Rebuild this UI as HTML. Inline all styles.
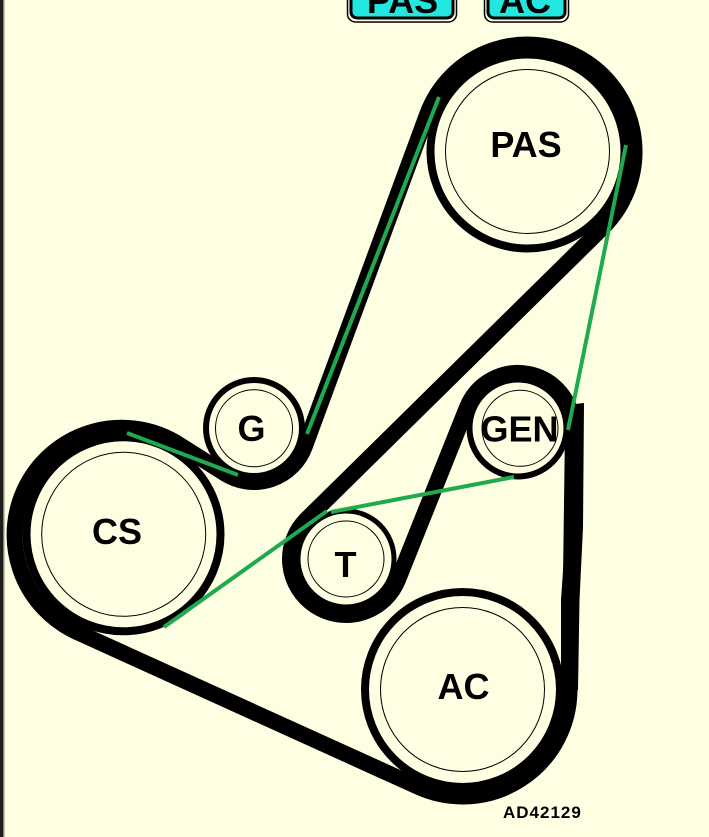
<!DOCTYPE html>
<html>
<head>
<meta charset="utf-8">
<style>
html,body{margin:0;padding:0;background:#FEFEE2;}
body{width:709px;height:837px;overflow:hidden;}
svg{display:block;}
text{font-family:"Liberation Sans",Arial,sans-serif;font-weight:bold;fill:#000;}
</style>
</head>
<body>
<svg width="709" height="837" viewBox="0 0 709 837" xmlns="http://www.w3.org/2000/svg">
  <rect x="0" y="0" width="709" height="837" fill="#FEFEE2"/>
  <!-- left border -->
  <rect x="0" y="0" width="3.2" height="837" fill="#1e1e1e"/>
  <rect x="3.2" y="0" width="1.2" height="837" fill="#7a7a7a"/>

  <!-- top buttons -->
  <rect x="347.5" y="-12" width="109" height="34" rx="8" fill="#FEFEE2" stroke="#000" stroke-width="1.5"/>
  <rect x="351" y="-12" width="102" height="30" rx="6" fill="#22E6E0" stroke="#000" stroke-width="3"/>
  <text x="402.5" y="13" font-size="36" text-anchor="middle">PAS</text>
  <rect x="484.5" y="-12" width="84" height="34" rx="8" fill="#FEFEE2" stroke="#000" stroke-width="1.5"/>
  <rect x="488" y="-12" width="77" height="30" rx="6" fill="#22E6E0" stroke="#000" stroke-width="3"/>
  <text x="525" y="13" font-size="36" text-anchor="middle">AC</text>

  <!-- belt -->
  <path d="M 77.8 632.4
           A 107 107 0 1 1 179.2 444.6
           L 225.1 473.6
           A 54 54 0 0 0 304.7 446.7
           L 427.1 114.5
           A 107 107 0 1 1 602.6 227.7
           L 306.7 519.1
           A 56 56 0 1 0 398.0 579.8
           L 466.9 407.6
           A 55 55 0 0 1 573 428.7
           L 569.5 690.9
           A 107 107 0 0 1 418.3 786.9
           Z"
        fill="none" stroke="#000" stroke-width="16" stroke-linejoin="round"/>
  <polygon points="566,418 575,404 584,403 583,527 579.5,600 578,690 561,690 561,600 566,527" fill="#000"/>

  <!-- pulleys -->
  <g stroke="#000" fill="#FEFEE2">
    <circle cx="527.5" cy="151.5" r="97" stroke-width="8"/>
    <circle cx="123.5" cy="534.3" r="97" stroke-width="8"/>
    <circle cx="462.5" cy="689.5" r="97.5" stroke-width="8"/>
    <circle cx="254" cy="428" r="48" stroke-width="6"/>
    <circle cx="518" cy="428" r="48.5" stroke-width="6"/>
    <circle cx="346" cy="559" r="48" stroke-width="5"/>
  </g>
  <g stroke="#000" fill="none" stroke-width="1">
    <circle cx="527.5" cy="151.5" r="82"/>
    <circle cx="123.7" cy="534.3" r="82"/>
    <circle cx="462.5" cy="689.5" r="82"/>
    <circle cx="254" cy="428.3" r="38.5"/>
    <circle cx="520" cy="428.3" r="38"/>
    <circle cx="346" cy="559" r="38"/>
  </g>

  <!-- labels -->
  <text x="526" y="157" font-size="36" text-anchor="middle">PAS</text>
  <text x="117" y="544" font-size="36" text-anchor="middle">CS</text>
  <text x="251.5" y="441" font-size="36" text-anchor="middle">G</text>
  <text x="345.5" y="577" font-size="36" text-anchor="middle">T</text>
  <text x="519.5" y="441.5" font-size="36" text-anchor="middle">GEN</text>
  <text x="463.5" y="699" font-size="36" text-anchor="middle">AC</text>
  <text x="503" y="818" font-size="17" letter-spacing="1">AD42129</text>

  <!-- green alternate routing -->
  <g stroke="#1FAA4F" stroke-width="4" fill="none" stroke-linecap="butt">
    <line x1="127" y1="433" x2="238" y2="475"/>
    <line x1="307" y1="434" x2="439" y2="97"/>
    <line x1="626" y1="145" x2="568" y2="430"/>
    <line x1="514" y1="477" x2="331" y2="512"/>
    <line x1="327" y1="511" x2="164" y2="627"/>
  </g>
</svg>
</body>
</html>
